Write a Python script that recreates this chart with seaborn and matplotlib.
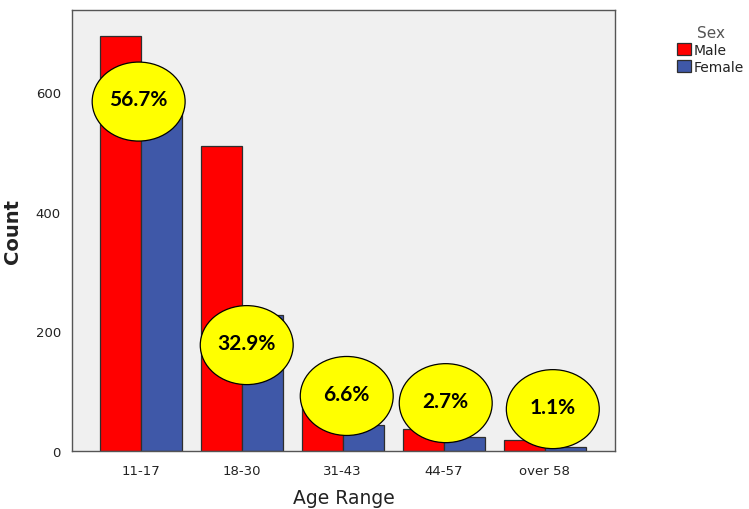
import numpy as np
import pandas as pd
import matplotlib
matplotlib.use('Agg')
import matplotlib.pyplot as plt
from matplotlib.patches import Ellipse, Patch
import seaborn as sns

# data
age_ranges = ['11-17', '18-30', '31-43', '44-57', 'over 58']
male = [694, 510, 105, 37, 18]
female = [576, 227, 43, 24, 7]
pct_labels = ['56.7%', '32.9%', '6.6%', '2.7%', '1.1%']

df = pd.DataFrame({
    'Age Range': age_ranges * 2,
    'Count': male + female,
    'Sex': ['Male'] * len(age_ranges) + ['Female'] * len(age_ranges),
})

sns.set_style('white')
plt.rcParams['font.family'] = ['DejaVu Sans']

red = '#ff0000'
blue = '#3f58a8'

fig = plt.figure(figsize=(7.49, 5.10), dpi=100)
ax = fig.add_axes([0.0961, 0.1137, 0.7249, 0.8647])
ax.set_facecolor('#f0f0f0')

sns.barplot(data=df, x='Age Range', y='Count', hue='Sex', palette=[red, blue],
            width=0.81, saturation=1, edgecolor='#2e2e2e', linewidth=0.9,
            legend=False, ax=ax)

ax.set_xlim(-0.68, 4.695)
ax.set_ylim(0, 737)
ax.set_yticks([0, 200, 400, 600])

for s in ax.spines.values():
    s.set_color('#555555')
    s.set_linewidth(1.0)
ax.tick_params(axis='both', direction='out', length=5, width=1, color='#444444',
               labelsize=9.5, labelcolor='#222222', pad=3)
ax.tick_params(axis='x', pad=4)

ax.set_xlabel('Age Range', fontsize=13.5, color='#222222', labelpad=8)
ax.set_ylabel('Count', fontsize=14, color='#222222', fontweight='bold', labelpad=10)

# yellow percentage bubbles (offsets from category centre, y centre in counts)
bubble_dx = [-0.02, 0.05, 0.04, 0.02, 0.08]
bubble_y = [584, 177, 92, 80, 70]
for i, lab in enumerate(pct_labels):
    e = Ellipse((i + bubble_dx[i], bubble_y[i]), width=0.92, height=132,
                facecolor='#ffff00', edgecolor='black', linewidth=0.9, zorder=5)
    ax.add_patch(e)
    ax.text(i + bubble_dx[i], bubble_y[i] + 4, lab, ha='center', va='center',
            fontsize=15, fontweight='bold', color='black',
            family=['Lato', 'DejaVu Sans'], zorder=6)

handles = [Patch(facecolor=red, edgecolor='#2e2e2e', linewidth=0.9),
           Patch(facecolor=blue, edgecolor='#2e2e2e', linewidth=0.9)]
leg = fig.legend(handles, ['Male', 'Female'], title='Sex', loc='upper left',
                 bbox_to_anchor=(0.897, 0.96), frameon=False, fontsize=10,
                 title_fontsize=11, handlelength=1.0, handleheight=1.0,
                 handletextpad=0.15, labelspacing=0.2, borderaxespad=0)
leg.get_title().set_color('#555555')
for t in leg.get_texts():
    t.set_color('#222222')

fig.savefig('out.png', dpi=100)
